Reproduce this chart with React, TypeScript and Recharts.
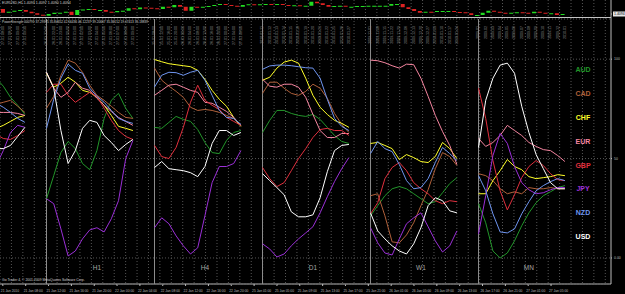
import React from 'react';
import {
  ComposedChart,
  Bar,
  Line,
  XAxis,
  YAxis,
  CartesianGrid,
  ReferenceLine,
  ReferenceDot,
  Legend,
} from 'recharts';

// ---- price panel: EURUSD H1 ----
const firstOpen = 1.4114;
const closes = [
  1.4099, 1.4103, 1.4107, 1.4110, 1.4103, 1.4097, 1.4091, 1.4087, 1.4094, 1.4099,
  1.4099, 1.4103, 1.4090, 1.4110, 1.4112, 1.4114, 1.4110, 1.4110, 1.4103, 1.4101,
  1.4106, 1.4107, 1.4117, 1.4113, 1.4120, 1.4119, 1.4117, 1.4114, 1.4123, 1.4121,
  1.4130, 1.4123, 1.4107, 1.4123, 1.4121, 1.4123, 1.4126, 1.4130, 1.4134, 1.4130,
  1.4127, 1.4123, 1.4130, 1.4133, 1.4130, 1.4133, 1.4134, 1.4130, 1.4134, 1.4130,
  1.4127, 1.4129, 1.4127, 1.4127, 1.4143, 1.4137, 1.4130, 1.4123, 1.4126, 1.4127,
  1.4123, 1.4123, 1.4126, 1.4126, 1.4127, 1.4127, 1.4127, 1.4127, 1.4134, 1.4134,
  1.4121, 1.4114, 1.4106, 1.4099, 1.4103, 1.4102, 1.4106, 1.4106, 1.4106, 1.4102,
  1.4101, 1.4097, 1.4090, 1.4090, 1.4099, 1.4107, 1.4103, 1.4099, 1.4097, 1.4099,
  1.4101, 1.4099, 1.4097, 1.4103, 1.4099, 1.4097, 1.4097, 1.4090, 1.4094,
];
const timeLabels = [
  '21 Jan 2010', '21 Jan 08:00', '21 Jan 12:00', '21 Jan 16:00', '21 Jan 20:00',
  '22 Jan 00:00', '22 Jan 04:00', '22 Jan 08:00', '22 Jan 12:00', '22 Jan 16:00',
  '22 Jan 20:00', '25 Jan 01:00', '25 Jan 05:00', '25 Jan 09:00', '25 Jan 13:00',
  '25 Jan 17:00', '25 Jan 21:00', '26 Jan 01:00', '26 Jan 05:00', '26 Jan 09:00',
  '26 Jan 13:00', '26 Jan 17:00', '26 Jan 21:00', '27 Jan 01:00', '27 Jan 05:00',
];

// ---- currency strength ----
const currencies = ['AUD', 'CAD', 'CHF', 'EUR', 'GBP', 'JPY', 'NZD', 'USD'];
const colors = ['#22962a', '#b0603a', '#ffff2a', '#f585a0', '#e0303e', '#9b30d8', '#6f95f0', '#ffffff'];

// M30 (only its tail is on screen)
const M30_AUD = [90.4, 86.4, 80.8, 76.8, 72.2];
const M30_CAD = [77.3, 78.3, 79.3, 76.3, 73.2];
const M30_CHF = [65.2, 66.7, 68.7, 70.7, 71.7];
const M30_EUR = [73.2, 73.2, 73.2, 72.7, 71.7];
const M30_GBP = [62.1, 60.1, 59.6, 61.6, 64.1];
const M30_JPY = [46.5, 54, 63.1, 66.7, 65.7];
const M30_NZD = [77.8, 75.8, 73.2, 70.2, 68.2];
const M30_USD = [55, 55, 56.6, 61.1, 65.7];

const H1_AUD = [29.8, 41.4, 53, 58.6, 55, 47.5, 44.4, 54, 70.2, 79.3, 82.8, 75.3, 70.2];
const H1_CAD = [75.3, 81.3, 91.9, 99.5, 98, 93.4, 86.9, 81.8, 79.3, 76.3, 73.2, 70.7, 70.2];
const H1_CHF = [92.9, 85.9, 87.9, 90.9, 88.4, 84.3, 83.3, 80.8, 76.8, 71.7, 66.2, 65.2, 64.1];
const H1_EUR = [93.4, 85.4, 80.8, 83.3, 88.4, 85.4, 84.3, 80.3, 76.8, 73.7, 70.7, 68.7, 66.7];
const H1_GBP = [83.3, 87.4, 87.4, 81.8, 78.3, 80.8, 83.3, 81.3, 75.3, 69.2, 64.1, 61.1, 59.6];
const H1_JPY = [29.8, 27.3, 14.6, 1, 3.5, 9.6, 14.1, 15.2, 13.1, 19.7, 28.8, 50, 59.1];
const H1_NZD = [65.2, 79.8, 90.4, 97.5, 94.4, 92.9, 85.4, 81.3, 78.3, 74.2, 70.2, 68.7, 67.7];
const H1_USD = [93.4, 85.4, 64.1, 47.5, 54, 65.2, 69.2, 68.2, 61.6, 58.1, 54, 57.1, 59.6];

const H4_AUD = [65.7, 65.2, 68.2, 71.2, 69.7, 68.7, 64.6, 58.1, 53, 52.5, 59.1, 63.1, 64.1];
const H4_CAD = [95.5, 89.4, 86.4, 83.8, 80.8, 75.8, 74.2, 74.7, 74.2, 73.2, 71.7, 70.2, 66.7];
const H4_CHF = [99.8, 98.7, 97.7, 97.2, 96.7, 96.2, 94.4, 89.9, 84.3, 79.8, 76.3, 70.7, 66.2];
const H4_EUR = [81.8, 84.3, 86.9, 87.4, 85.9, 84.3, 83.3, 78.3, 77.8, 75.8, 73.7, 70.7, 66.7];
const H4_GBP = [56.6, 51, 50, 55.6, 65.7, 78.3, 86.9, 79.3, 76.8, 74.7, 70.7, 68.7, 66.7];
const H4_JPY = [15.2, 20.2, 17.2, 11.1, 6.1, 2, 5.1, 21.2, 37.9, 46, 46, 47.5, 54];
const H4_NZD = [86, 91.9, 93.4, 93.2, 91.9, 93.4, 94.4, 89.4, 81.8, 74.2, 70.7, 70.2, 67.2];
const H4_USD = [45.5, 48.5, 44.9, 44.4, 43.9, 42.9, 40.9, 46, 57.6, 64.1, 64.1, 61.6, 63.1];

const D1_AUD = [63.1, 69.2, 74.2, 74.2, 72.7, 71.7, 71.2, 72.2, 69.7, 65.7, 61.6, 58.6, 57.6];
const D1_CAD = [82.8, 88.4, 88.4, 85.4, 82.8, 81.8, 83.8, 87.4, 85.4, 80.3, 72.7, 67.2, 63.1];
const D1_CHF = [89.4, 90.9, 95.5, 98.5, 99.5, 98, 90.4, 81.8, 75.8, 72.2, 69.2, 67.7, 65.7];
const D1_EUR = [89.9, 86.4, 85.9, 87.4, 87.4, 85.9, 80.8, 72.2, 64.1, 60.6, 60.6, 62.6, 62.6];
const D1_GBP = [45.5, 39.9, 35.9, 37.9, 43.9, 50, 55, 60.6, 64.6, 65.2, 64.1, 64.1, 61.6];
const D1_JPY = [7.1, 4.5, 0.5, 2, 6.1, 9.6, 12.6, 15.7, 22.7, 30.8, 38.4, 44.9, 50.5];
const D1_NZD = [94.9, 96.6, 97, 97, 96.7, 96.2, 95.7, 95.5, 90.4, 79.8, 70.2, 66.2, 64.1];
const D1_USD = [42.4, 38.9, 35.4, 31.8, 23.2, 20.7, 20.7, 21.7, 30.3, 43.4, 54, 56.6, 57.1];

const W1_AUD = [21.2, 26.3, 31.3, 34.8, 35.9, 34.8, 32.3, 29.8, 27.3, 28.3, 32.8, 37.4, 40.4];
const W1_CAD = [31.3, 32.3, 21.2, 8.1, 7.6, 11.6, 17.7, 26.3, 34.3, 44.9, 53, 51, 46.5];
const W1_CHF = [57.6, 58.1, 56.6, 55, 49.5, 52, 50.5, 48.5, 48, 51, 58.1, 55, 50];
const W1_EUR = [99.5, 99.2, 98.2, 96.7, 95.5, 97.5, 97.2, 90.4, 81.3, 71.7, 63.6, 56.6, 47];
const W1_GBP = [22.2, 27.8, 39.9, 45.5, 48, 43.9, 37.9, 34.8, 32.3, 28.8, 27.3, 28.8, 28.3];
const W1_JPY = [15.2, 7.6, 2.5, 1.5, 9.6, 17.2, 20.2, 22.7, 15.7, 8.6, 3, 6.1, 13.6];
const W1_NZD = [52.5, 58.6, 55, 53.5, 47, 38.9, 34.8, 35.4, 39.9, 48, 55.6, 52.5, 49];
const W1_USD = [22.7, 13.6, 9.6, 6.1, 3.5, 2, 7.1, 15.2, 26.3, 30.3, 28.8, 23.7, 22.7];

const MN_AUD = [27.3, 17.7, 3.5, 0, 2.5, 8.6, 16.2, 22.7, 27.8, 31.3, 33.3, 35.4, 36.4];
const MN_CAD = [42.4, 41.4, 38.9, 34.8, 32.3, 33.3, 32.3, 35.4, 34.8, 34.8, 35.4, 34.8, 34.8];
const MN_CHF = [32.3, 32.3, 38.9, 43.9, 49.5, 46, 44.4, 40.9, 39.9, 40.4, 40.9, 41.9, 41.4];
const MN_EUR = [60.1, 56.1, 58.1, 61.6, 66.7, 64.1, 61.6, 58.1, 56.1, 54.5, 54, 51.5, 48.5];
const MN_GBP = [85.4, 70.2, 49, 33.8, 24.2, 31.8, 40.4, 46, 49, 46.5, 42.4, 39.4, 38.9];
const MN_JPY = [12.1, 31.3, 51.5, 62.6, 57.6, 46, 37.9, 34.3, 32.3, 32.8, 34.3, 35.4, 35.4];
const MN_NZD = [41.4, 33.8, 22.2, 13.1, 12.6, 14.6, 22.2, 28.3, 33.8, 36.4, 38.4, 39.9, 38.9];
const MN_USD = [55.6, 79.3, 90.4, 97, 98, 92.9, 76.3, 63.1, 52, 44.9, 37.9, 34.8, 34.8];

// bar times printed at the top of each block
const M30_TIMES = ['27.01 07:30', '27.01 08:00', '27.01 08:30', '27.01 09:00', '27.01 09:30'];
const H1_TIMES = ['26.01 21:00', '26.01 22:00', '26.01 23:00', '27.01 00:00', '27.01 01:00', '27.01 02:00', '27.01 03:00', '27.01 04:00', '27.01 05:00', '27.01 06:00', '27.01 07:00', '27.01 08:00', '27.01 09:00'];
const H4_TIMES = ['25.01 08:00', '25.01 12:00', '25.01 16:00', '25.01 20:00', '26.01 00:00', '26.01 04:00', '26.01 08:00', '26.01 12:00', '26.01 16:00', '26.01 20:00', '27.01 00:00', '27.01 04:00', '27.01 08:00'];
const D1_TIMES = ['2010.01.11', '2010.01.12', '2010.01.13', '2010.01.14', '2010.01.15', '2010.01.18', '2010.01.19', '2010.01.20', '2010.01.21', '2010.01.22', '2010.01.25', '2010.01.26', '2010.01.27'];
const W1_TIMES = ['2009.11.01', '2009.11.08', '2009.11.15', '2009.11.22', '2009.11.29', '2009.12.06', '2009.12.13', '2009.12.20', '2009.12.27', '2010.01.03', '2010.01.10', '2010.01.17', '2010.01.24'];
const MN_TIMES = ['2009.01', '2009.02', '2009.03', '2009.04', '2009.05', '2009.06', '2009.07', '2009.08', '2009.09', '2009.10', '2009.11', '2009.12', '2010.01'];

const sections = [
  { name: '', start: 0, times: M30_TIMES, series: [M30_AUD, M30_CAD, M30_CHF, M30_EUR, M30_GBP, M30_JPY, M30_NZD, M30_USD] },
  { name: 'H1', start: 7, times: H1_TIMES, series: [H1_AUD, H1_CAD, H1_CHF, H1_EUR, H1_GBP, H1_JPY, H1_NZD, H1_USD] },
  { name: 'H4', start: 22, times: H4_TIMES, series: [H4_AUD, H4_CAD, H4_CHF, H4_EUR, H4_GBP, H4_JPY, H4_NZD, H4_USD] },
  { name: 'D1', start: 37, times: D1_TIMES, series: [D1_AUD, D1_CAD, D1_CHF, D1_EUR, D1_GBP, D1_JPY, D1_NZD, D1_USD] },
  { name: 'W1', start: 52, times: W1_TIMES, series: [W1_AUD, W1_CAD, W1_CHF, W1_EUR, W1_GBP, W1_JPY, W1_NZD, W1_USD] },
  { name: 'MN', start: 67, times: MN_TIMES, series: [MN_AUD, MN_CAD, MN_CHF, MN_EUR, MN_GBP, MN_JPY, MN_NZD, MN_USD] },
];

const W = 625;
const H = 294;
const SLOTS = 107;
const GRID = '#555555';
const AXIS = '#bdbdbd';
const FONT = '"Liberation Sans", Arial, sans-serif';

const candleRows = Array.from({ length: SLOTS }, (_, i) => {
  if (i >= closes.length) return { i, body: null, up: true };
  const open = i === 0 ? firstOpen : closes[i - 1];
  const close = closes[i];
  return { i, body: [Math.min(open, close), Math.max(open, close)], up: close >= open };
});

const lastIndex = Math.max(...sections.map((s) => s.start + s.series[0].length));
const strengthRows = Array.from({ length: lastIndex + 1 }, (_, i) => {
  const row: Record<string, any> = { i, label: null };
  currencies.forEach((c) => (row[c] = null));
  sections.forEach((s) => {
    const k = i - s.start;
    if (k >= 0 && k < s.series[0].length) {
      currencies.forEach((c, ci) => (row[c] = s.series[ci][k]));
      row.label = s.times[k];
    }
  });
  return row;
});

const topTicks = strengthRows.filter((r) => r.label && r.i > 0.54).map((r) => r.i);

const Candle = (props: any) => {
  const { x, y, width, height, payload } = props;
  if (!payload || !payload.body) return null;
  const top = height < 0 ? y + height : y;
  return <rect x={x} y={top} width={width} height={Math.max(1, Math.abs(height))} fill={payload.up ? '#22dd22' : '#dd2222'} />;
};

const TimeTick = (props: any) => {
  const { x, y, payload } = props;
  return (
    <text x={x - 2} y={y + 4} fontSize={3.3} fill={AXIS} textAnchor="start" fontFamily={FONT}>
      {timeLabels[payload.value / 4]}
    </text>
  );
};

const PriceTick = (props: any) => {
  const { x, y, payload } = props;
  const isLast = payload.value === closes[closes.length - 1];
  if (isLast) {
    return (
      <g>
        <rect x={x - 1} y={y - 2.5} width={13} height={5} fill="#e6e6e6" />
        <text x={x} y={y + 1.3} fontSize={3.5} fill="#000" fontFamily={FONT}>{payload.value.toFixed(4)}</text>
      </g>
    );
  }
  return <text x={x} y={y + 1.3} fontSize={3.5} fill={AXIS} fontFamily={FONT}>{payload.value.toFixed(4)}</text>;
};

// vertical bar-time labels drawn just under the top of the strength panel
const BarTimeTick = (props: any) => {
  const { x, payload } = props;
  const row = strengthRows[payload.value];
  if (!row || !row.label) return null;
  return (
    <text x={x} y={26} transform={`rotate(-90 ${x} 26)`} textAnchor="end" dominantBaseline="middle" fontSize={3.6} fill="#8e8e8e" fontFamily={FONT}>
      {row.label}
    </text>
  );
};

const LegendList = () => (
  <div style={{ fontFamily: FONT, fontWeight: 'bold', fontSize: 7 }}>
    {currencies.map((c, k) => (
      <div key={c} style={{ color: colors[k], height: 23.9, lineHeight: '8px', textAlign: 'center' }}>{c}</div>
    ))}
  </div>
);

export default function App() {
  return (
    <div style={{ position: 'relative', width: W, height: H, background: '#000', overflow: 'hidden', fontFamily: FONT }}>
      <style>{'body{margin:0;background:#000}'}</style>

      {/* price panel + time axis + vertical grid */}
      <div style={{ position: 'absolute', left: 0, top: 0 }}>
        <ComposedChart width={W} height={H} data={candleRows} margin={{ top: 0, right: 0, bottom: 0, left: 0 }} barCategoryGap={0}>
          <CartesianGrid
            horizontal={false}
            stroke={GRID}
            strokeDasharray="1 2"
            verticalCoordinatesGenerator={({ offset }: any) =>
              Array.from({ length: Math.ceil(SLOTS / 2) }, (_, j) => offset.left + (2 * j * offset.width) / SLOTS)
            }
          />
          <XAxis
            dataKey="i"
            height={10}
            interval={0}
            ticks={timeLabels.map((_, k) => k * 4)}
            tick={<TimeTick />}
            tickSize={2}
            stroke={AXIS}
          />
          <YAxis
            orientation="right"
            width={14}
            domain={[1.3014, 1.415]}
            allowDataOverflow
            ticks={[1.413, closes[closes.length - 1]]}
            tick={<PriceTick />}
            tickSize={1}
            stroke={AXIS}
          />
          <Bar dataKey="body" barSize={4} shape={<Candle />} isAnimationActive={false} />
        </ComposedChart>
      </div>

      {/* panel separator */}
      <div style={{ position: 'absolute', left: 0, top: 17, width: 611, height: 1, background: '#c4c4c4' }} />

      {/* strength panel */}
      <div style={{ position: 'absolute', left: 0, top: 0 }}>
        <ComposedChart width={W} height={H} data={strengthRows} margin={{ top: 18, right: 0, bottom: 10, left: 0 }}>
          <CartesianGrid vertical={false} stroke={GRID} strokeDasharray="1 2" />
          <XAxis dataKey="i" type="number" domain={[0.54, 85.4]} allowDataOverflow hide />
          <XAxis
            xAxisId="top"
            dataKey="i"
            type="number"
            orientation="top"
            domain={[0.54, 85.4]}
            allowDataOverflow
            height={1}
            interval={0}
            ticks={topTicks}
            tick={<BarTimeTick />}
            tickLine={false}
            axisLine={false}
          />
          <YAxis
            orientation="right"
            width={14}
            domain={[-13.1, 120.2]}
            allowDataOverflow
            ticks={[0, 50, 100]}
            tickFormatter={(v: number) => (v === 0 ? '0.00' : String(v))}
            tick={{ fontSize: 3.5, fill: AXIS, fontFamily: FONT, textAnchor: 'start' }}
            tickSize={1}
            axisLine={false}
            stroke={AXIS}
          />
          {sections.filter((s) => s.name).map((s) => (
            <ReferenceLine key={`sep-${s.name}`} x={s.start} stroke="#8c8c8c" strokeWidth={1} />
          ))}
          {sections.filter((s) => s.name).map((s) => (
            <ReferenceDot
              key={`lbl-${s.name}`}
              x={s.start + 7}
              y={-5}
              r={0}
              stroke="none"
              label={{ value: s.name, position: 'center', fill: '#a6a6a6', fontSize: 6.5, fontFamily: FONT }}
            />
          ))}
          {/* invisible carrier so the top time axis has a series */}
          <Line xAxisId="top" dataKey="USD" stroke="none" dot={false} legendType="none" isAnimationActive={false} />
          {currencies.map((c, k) => (
            <Line
              key={c}
              dataKey={c}
              stroke={colors[k]}
              strokeWidth={1}
              dot={false}
              connectNulls={false}
              isAnimationActive={false}
            />
          ))}
          <Legend
            layout="horizontal"
            verticalAlign="middle"
            wrapperStyle={{ left: 562, top: 66, width: 42 }}
            content={<LegendList />}
          />
        </ComposedChart>
      </div>

      <div style={{ position: 'absolute', left: 2, top: 1, fontSize: 3.6, color: '#d0d0d0', whiteSpace: 'nowrap' }}>
        EURUSD,H1 1.4093 1.4097 1.4090 1.4094
      </div>
      <div style={{ position: 'absolute', left: 2, top: 19.5, fontSize: 3.2, color: '#d0d0d0', whiteSpace: 'nowrap' }}>
        PowerStrength 000791 37.29375 35.84652 42.56436 46.12237 39.20667 35.36152 19.07413 35.18839
      </div>
      <div style={{ position: 'absolute', left: 2, top: 278, fontSize: 3.4, color: '#d0d0d0', whiteSpace: 'nowrap' }}>
        Go Trader 4, © 2001-2009 MetaQuotes Software Corp.
      </div>
    </div>
  );
}
